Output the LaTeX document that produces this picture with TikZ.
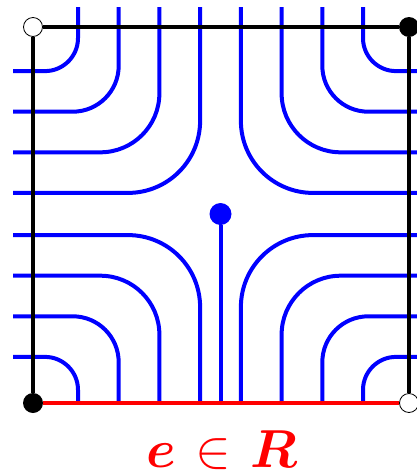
\documentclass[tikz,border=0pt]{standalone}
\usepackage{amsmath}
\usepackage{graphicx}
\usetikzlibrary{positioning}
\definecolor{FlowBlue}{rgb}{0, 0, 1}
\definecolor{EdgeRed}{rgb}{1, 0, 0}
\tikzset{
  vopen/.style={circle, draw=black, fill=white, line width=0.8pt, minimum size=19pt, inner sep=0pt},
  vfull/.style={circle, fill=black, minimum size=20pt, inner sep=0pt},
  bound/.style={line width=4pt, black},
  redge/.style={line width=4.2pt, EdgeRed},
  flow/.style={line width=4pt, FlowBlue},
}

\begin{document}
\begin{tikzpicture}[x=1pt, y=-1pt]
\useasboundingbox (0,0) rectangle (417,472);

% flow lines, one family per quadrant
\foreach \k/\r in {1/33, 2/46, 3/59, 4/72} {
  \pgfmathsetmacro{\xl}{37.3+40.7*\k}
  \pgfmathsetmacro{\xr}{441-\xl}
  \pgfmathsetmacro{\yt}{30.5+40.6*\k}
  \pgfmathsetmacro{\yb}{428-\yt}
  \draw[flow, rounded corners=\r] (13,\yt) -- (\xl,\yt) -- (\xl,7);
  \draw[flow, rounded corners=\r] (430,\yt) -- (\xr,\yt) -- (\xr,7);
  \draw[flow, rounded corners=\r] (13,\yb) -- (\xl,\yb) -- (\xl,403);
  \draw[flow, rounded corners=\r] (430,\yb) -- (\xr,\yb) -- (\xr,403);
}

% source in the middle
\node[circle, fill=FlowBlue, minimum size=22pt, inner sep=0pt] (src) at (220.5,214) {};
\coordinate (foot) at (220.5,403);
\draw[flow] (src) -- (foot);

% corners of the square
\node[vopen] (tl) at (33,27) {};
\node[vfull] (tr) at (409,27) {};
\node[vfull] (bl) at (33,403) {};
\node[vopen] (br) at (409,403) {};

\draw[bound] (tl) -- (tr);
\draw[bound] (tl) -- (bl);
\draw[bound] (tr) -- (br);
\draw[redge] (bl) -- (br);

\node[text=EdgeRed, anchor=base, inner sep=0pt, font=\Huge] (lbl) at (221.5,467) {\scalebox{2.15}{$\boldsymbol{e}\mskip1.5mu\in\mskip1.5mu\boldsymbol{R}$}};

\end{tikzpicture}
\end{document}
